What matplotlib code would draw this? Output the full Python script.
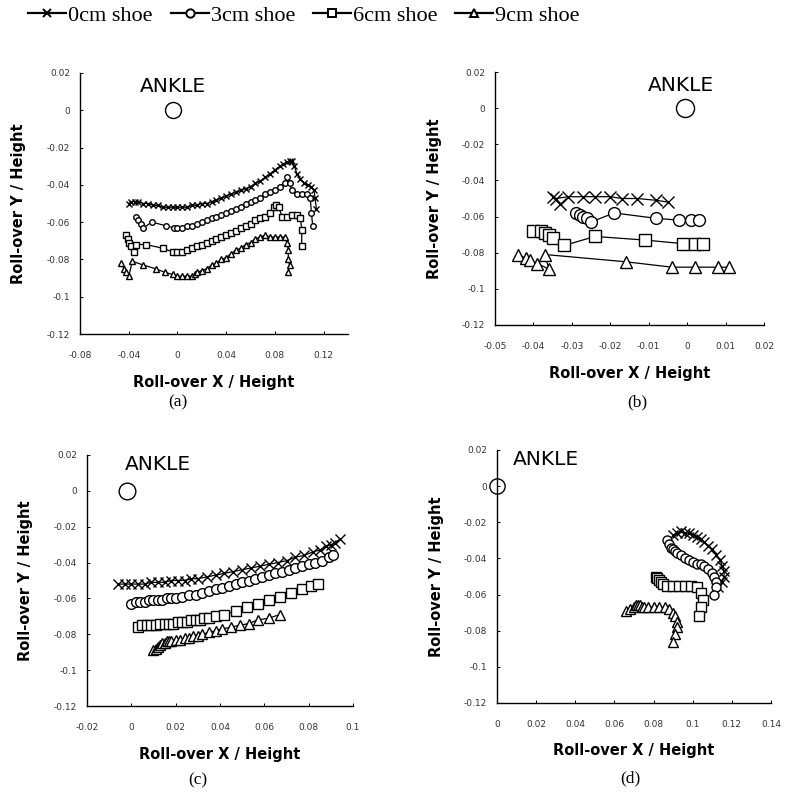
import matplotlib
matplotlib.use("Agg")
import matplotlib.pyplot as plt
from matplotlib.lines import Line2D

# ---- data (roll-over shape, normalised by height) ----
shoes = ["0cm shoe", "3cm shoe", "6cm shoe", "9cm shoe"]
markers = ["x", "o", "s", "^"]

y_ticks = [0.02, 0, -0.02, -0.04, -0.06, -0.08, -0.1, -0.12]
y_ticklabels = ["0.02", "0", "-0.02", "-0.04", "-0.06", "-0.08", "-0.1", "-0.12"]

# (a)
a_xticks = [-0.08, -0.04, 0, 0.04, 0.08, 0.12]
a_xticklabels = ["-0.08", "-0.04", "0", "0.04", "0.08", "0.12"]
a_0cm_x = [-0.040, -0.038, -0.035, -0.032, -0.028, -0.024, -0.020, -0.016, -0.012, -0.008, -0.004,
           0.000, 0.004, 0.008, 0.012, 0.016, 0.020, 0.024, 0.028, 0.032, 0.036, 0.040, 0.044,
           0.048, 0.052, 0.056, 0.060, 0.064, 0.068, 0.072, 0.076, 0.080, 0.084, 0.087, 0.090,
           0.092, 0.094, 0.096, 0.098, 0.101, 0.104, 0.107, 0.110, 0.112, 0.113, 0.114]
a_0cm_y = [-0.050, -0.049, -0.049, -0.049, -0.050, -0.050, -0.051, -0.051, -0.052, -0.052, -0.052,
           -0.052, -0.052, -0.052, -0.051, -0.051, -0.050, -0.050, -0.049, -0.048, -0.047, -0.046,
           -0.045, -0.044, -0.043, -0.042, -0.041, -0.039, -0.038, -0.036, -0.034, -0.032, -0.030,
           -0.029, -0.028, -0.027, -0.027, -0.030, -0.034, -0.037, -0.039, -0.040, -0.041, -0.043,
           -0.047, -0.053]
a_3cm_x = [-0.034, -0.032, -0.030, -0.028, -0.021, -0.009, -0.003, 0.000, 0.004, 0.008, 0.012,
           0.016, 0.020, 0.024, 0.028, 0.032, 0.036, 0.040, 0.044, 0.048, 0.052, 0.056, 0.060,
           0.064, 0.068, 0.072, 0.076, 0.080, 0.084, 0.088, 0.090, 0.092, 0.094, 0.098, 0.102,
           0.106, 0.109, 0.110, 0.111]
a_3cm_y = [-0.057, -0.059, -0.061, -0.063, -0.060, -0.062, -0.063, -0.063, -0.063, -0.062, -0.062,
           -0.061, -0.060, -0.059, -0.058, -0.057, -0.056, -0.055, -0.054, -0.053, -0.052, -0.050,
           -0.049, -0.048, -0.047, -0.045, -0.044, -0.043, -0.041, -0.039, -0.036, -0.039, -0.043,
           -0.045, -0.045, -0.045, -0.047, -0.055, -0.062]
a_6cm_x = [-0.042, -0.041, -0.040, -0.038, -0.036, -0.034, -0.026, -0.012, -0.004, 0.000, 0.004,
           0.008, 0.012, 0.016, 0.020, 0.024, 0.028, 0.032, 0.036, 0.040, 0.044, 0.048, 0.052,
           0.056, 0.060, 0.064, 0.068, 0.072, 0.076, 0.079, 0.081, 0.083, 0.086, 0.090, 0.094,
           0.098, 0.101, 0.102, 0.102]
a_6cm_y = [-0.067, -0.069, -0.071, -0.073, -0.076, -0.072, -0.072, -0.074, -0.076, -0.076, -0.076,
           -0.075, -0.074, -0.073, -0.072, -0.071, -0.070, -0.069, -0.068, -0.067, -0.066, -0.065,
           -0.063, -0.062, -0.061, -0.059, -0.058, -0.057, -0.055, -0.052, -0.051, -0.052, -0.057,
           -0.057, -0.056, -0.056, -0.058, -0.064, -0.073]
a_9cm_x = [-0.046, -0.044, -0.042, -0.040, -0.037, -0.028, -0.018, -0.010, -0.004, 0.000, 0.004,
           0.008, 0.012, 0.014, 0.016, 0.020, 0.024, 0.028, 0.032, 0.036, 0.040, 0.044, 0.048,
           0.052, 0.056, 0.060, 0.064, 0.068, 0.072, 0.076, 0.080, 0.084, 0.088, 0.090, 0.091,
           0.091, 0.092, 0.091]
a_9cm_y = [-0.082, -0.085, -0.087, -0.089, -0.081, -0.083, -0.085, -0.087, -0.088, -0.089, -0.089,
           -0.089, -0.089, -0.088, -0.087, -0.086, -0.085, -0.083, -0.082, -0.080, -0.079, -0.077,
           -0.075, -0.074, -0.072, -0.071, -0.069, -0.068, -0.067, -0.068, -0.068, -0.068, -0.068,
           -0.071, -0.075, -0.080, -0.083, -0.087]

# (b)
b_xticks = [-0.05, -0.04, -0.03, -0.02, -0.01, 0, 0.01, 0.02]
b_xticklabels = ["-0.05", "-0.04", "-0.03", "-0.02", "-0.01", "0", "0.01", "0.02"]
b_0cm_x = [-0.033, -0.035, -0.034, -0.031, -0.027, -0.024, -0.020, -0.017, -0.013, -0.008, -0.005]
b_0cm_y = [-0.053, -0.049, -0.050, -0.049, -0.049, -0.049, -0.049, -0.050, -0.050, -0.051, -0.052]
b_3cm_x = [-0.029, -0.028, -0.027, -0.026, -0.025, -0.019, -0.008, -0.002, 0.001, 0.003]
b_3cm_y = [-0.058, -0.059, -0.060, -0.061, -0.063, -0.058, -0.061, -0.062, -0.062, -0.062]
b_6cm_x = [-0.040, -0.038, -0.037, -0.036, -0.035, -0.032, -0.024, -0.011, -0.001, 0.002, 0.004]
b_6cm_y = [-0.068, -0.068, -0.069, -0.070, -0.072, -0.076, -0.071, -0.073, -0.075, -0.075, -0.075]
b_9cm_x = [-0.044, -0.042, -0.041, -0.039, -0.036, -0.037, -0.016, -0.004, 0.002, 0.008, 0.011]
b_9cm_y = [-0.081, -0.083, -0.084, -0.086, -0.089, -0.081, -0.085, -0.088, -0.088, -0.088, -0.088]

# (c)
c_xticks = [-0.02, 0, 0.02, 0.04, 0.06, 0.08, 0.1]
c_xticklabels = ["-0.02", "0", "0.02", "0.04", "0.06", "0.08", "0.1"]
c_0cm_x = [-0.006, -0.003, 0.000, 0.003, 0.006, 0.009, 0.012, 0.015, 0.018, 0.021, 0.024, 0.027,
           0.030, 0.034, 0.038, 0.042, 0.046, 0.050, 0.054, 0.058, 0.062, 0.066, 0.070, 0.074,
           0.078, 0.082, 0.085, 0.088, 0.090, 0.092, 0.094]
c_0cm_y = [-0.052, -0.052, -0.052, -0.052, -0.052, -0.051, -0.051, -0.051, -0.050, -0.050, -0.050,
           -0.049, -0.049, -0.048, -0.047, -0.046, -0.045, -0.044, -0.043, -0.042, -0.041, -0.040,
           -0.039, -0.037, -0.036, -0.034, -0.033, -0.031, -0.030, -0.029, -0.027]
c_3cm_x = [0.000, 0.002, 0.004, 0.006, 0.008, 0.010, 0.012, 0.014, 0.016, 0.018, 0.020, 0.023,
           0.026, 0.029, 0.032, 0.035, 0.038, 0.041, 0.044, 0.047, 0.050, 0.053, 0.056, 0.059,
           0.062, 0.065, 0.068, 0.071, 0.074, 0.077, 0.080, 0.083, 0.086, 0.089, 0.091]
c_3cm_y = [-0.063, -0.062, -0.062, -0.062, -0.061, -0.061, -0.061, -0.061, -0.060, -0.060, -0.060,
           -0.059, -0.058, -0.058, -0.057, -0.056, -0.055, -0.054, -0.053, -0.052, -0.051, -0.050,
           -0.049, -0.048, -0.047, -0.046, -0.045, -0.044, -0.043, -0.042, -0.041, -0.040, -0.039,
           -0.037, -0.036]
c_6cm_x = [0.003, 0.005, 0.007, 0.009, 0.011, 0.013, 0.015, 0.017, 0.019, 0.021, 0.023, 0.025,
           0.027, 0.029, 0.031, 0.033, 0.035, 0.038, 0.042, 0.047, 0.052, 0.057, 0.062, 0.067,
           0.072, 0.077, 0.081, 0.084]
c_6cm_y = [-0.076, -0.075, -0.075, -0.075, -0.075, -0.074, -0.074, -0.074, -0.074, -0.073, -0.073,
           -0.073, -0.072, -0.072, -0.072, -0.071, -0.071, -0.070, -0.069, -0.067, -0.065, -0.063,
           -0.061, -0.059, -0.057, -0.055, -0.053, -0.052]
c_9cm_x = [0.010, 0.011, 0.012, 0.013, 0.014, 0.015, 0.016, 0.017, 0.018, 0.020, 0.022, 0.024,
           0.026, 0.028, 0.030, 0.032, 0.035, 0.038, 0.041, 0.045, 0.049, 0.053, 0.057, 0.062, 0.067]
c_9cm_y = [-0.089, -0.088, -0.087, -0.086, -0.085, -0.085, -0.084, -0.084, -0.084, -0.083, -0.083,
           -0.082, -0.082, -0.081, -0.081, -0.080, -0.079, -0.078, -0.077, -0.076, -0.075, -0.074,
           -0.072, -0.071, -0.069]

# (d)
d_xticks = [0, 0.02, 0.04, 0.06, 0.08, 0.1, 0.12, 0.14]
d_xticklabels = ["0", "0.02", "0.04", "0.06", "0.08", "0.1", "0.12", "0.14"]
d_0cm_x = [0.090, 0.092, 0.094, 0.096, 0.098, 0.100, 0.102, 0.104, 0.106, 0.108, 0.110, 0.112,
           0.114, 0.115, 0.116, 0.116, 0.115, 0.113]
d_0cm_y = [-0.027, -0.026, -0.025, -0.026, -0.026, -0.027, -0.028, -0.029, -0.031, -0.033, -0.035,
           -0.038, -0.041, -0.044, -0.047, -0.050, -0.053, -0.056]
d_3cm_x = [0.087, 0.088, 0.089, 0.090, 0.091, 0.092, 0.094, 0.096, 0.098, 0.100, 0.102, 0.104,
           0.106, 0.108, 0.110, 0.111, 0.112, 0.112, 0.111]
d_3cm_y = [-0.030, -0.032, -0.034, -0.035, -0.036, -0.037, -0.038, -0.040, -0.041, -0.042, -0.043,
           -0.043, -0.044, -0.046, -0.048, -0.050, -0.053, -0.056, -0.060]
d_6cm_x = [0.081, 0.082, 0.083, 0.084, 0.085, 0.087, 0.090, 0.093, 0.096, 0.099, 0.102, 0.104,
           0.105, 0.104, 0.103]
d_6cm_y = [-0.050, -0.051, -0.052, -0.053, -0.054, -0.055, -0.055, -0.055, -0.055, -0.055, -0.056,
           -0.059, -0.063, -0.067, -0.072]
d_9cm_x = [0.066, 0.068, 0.070, 0.071, 0.072, 0.073, 0.074, 0.075, 0.077, 0.080, 0.083, 0.086,
           0.088, 0.090, 0.091, 0.092, 0.092, 0.091, 0.090]
d_9cm_y = [-0.069, -0.068, -0.067, -0.066, -0.066, -0.066, -0.067, -0.067, -0.067, -0.067, -0.067,
           -0.067, -0.068, -0.070, -0.072, -0.075, -0.078, -0.082, -0.086]

# ankle position and label position per panel
ankle_xy = {"a": (-0.004, 0.0), "b": (-0.0005, 0.0), "c": (-0.002, 0.0), "d": (0.0, 0.0)}
ankle_text_xy = {"a": (-0.004, 0.013), "b": (-0.0015, 0.0128), "c": (0.012, 0.0145), "d": (0.025, 0.015)}

W, H = 785, 796
SANS = "DejaVu Sans"
SERIF = "Liberation Serif"


def px_axes(l, t, r, b):
    return [l / W, 1 - b / H, (r - l) / W, (b - t) / H]


def panel(fig, rect, xlim, xticks, xticklabels, series, ms, ankle_ms, key, caption_xy):
    ax = fig.add_axes(rect)
    for (xs, ys), mk in zip(series, markers):
        ax.plot(xs, ys, color="black", lw=0.9, marker=mk, ms=ms,
                mfc="white" if mk != "x" else "black", mec="black", mew=1.0)
    ax.plot(*ankle_xy[key], marker="o", ms=ankle_ms, mfc="none", mec="black", mew=1.0,
            clip_on=False)
    ax.text(*ankle_text_xy[key], "ANKLE", fontsize=14.5, family=SANS, ha="center", va="center")
    ax.set_xlim(*xlim)
    ax.set_ylim(-0.12, 0.02)
    ax.set_xticks(xticks)
    ax.set_xticklabels(xticklabels)
    ax.set_yticks(y_ticks)
    ax.set_yticklabels(y_ticklabels)
    for s in ("top", "right"):
        ax.spines[s].set_visible(False)
    for s in ("left", "bottom"):
        ax.spines[s].set_linewidth(1.0)
    ax.tick_params(axis="both", direction="in", length=2.5, width=0.7,
                   labelsize=6.5, labelcolor="#333333")
    ax.tick_params(axis="x", pad=12)
    ax.tick_params(axis="y", pad=7)
    hpx = rect[3] * H
    wpx = rect[2] * W
    ax.set_xlabel("Roll-over X / Height", fontsize=10.5, fontweight="bold", family=SANS, va="center")
    ax.xaxis.set_label_coords(0.5, -48 / hpx)
    ax.set_ylabel("Roll-over Y / Height", fontsize=10.5, fontweight="bold", family=SANS, va="center")
    ax.yaxis.set_label_coords(-61 / wpx, 0.5)
    fig.text(caption_xy[0] / W, 1 - caption_xy[1] / H, "(%s)" % key, fontsize=12.5,
             family=SERIF, ha="center", va="center")
    return ax


fig = plt.figure(figsize=(W / 100, H / 100), dpi=100)

ax_a = panel(fig, px_axes(80, 73, 348, 334), (-0.08, 0.14), a_xticks, a_xticklabels,
             [(a_0cm_x, a_0cm_y), (a_3cm_x, a_3cm_y), (a_6cm_x, a_6cm_y), (a_9cm_x, a_9cm_y)],
             4, 11.5, "a", (178, 402))
ax_b = panel(fig, px_axes(495, 72, 764, 325), (-0.05, 0.02), b_xticks, b_xticklabels,
             [(b_0cm_x, b_0cm_y), (b_3cm_x, b_3cm_y), (b_6cm_x, b_6cm_y), (b_9cm_x, b_9cm_y)],
             8.5, 13, "b", (637, 402))
ax_c = panel(fig, px_axes(87, 455, 353, 706), (-0.02, 0.1), c_xticks, c_xticklabels,
             [(c_0cm_x, c_0cm_y), (c_3cm_x, c_3cm_y), (c_6cm_x, c_6cm_y), (c_9cm_x, c_9cm_y)],
             7, 12, "c", (198, 780))
ax_d = panel(fig, px_axes(497, 450, 771, 703), (0, 0.14), d_xticks, d_xticklabels,
             [(d_0cm_x, d_0cm_y), (d_3cm_x, d_3cm_y), (d_6cm_x, d_6cm_y), (d_9cm_x, d_9cm_y)],
             6.5, 11, "d", (630, 778))

handles = [Line2D([], [], color="black", lw=1.6, marker=mk, ms=6, mfc="white" if mk != "x" else "black",
                  mec="black", mew=1.4) for mk in markers]
fig.legend(handles, shoes, loc="upper left", bbox_to_anchor=(24 / W, 1 - 1 / H), ncol=4,
           frameon=False, prop={"family": SERIF, "size": 16}, handlelength=1.7,
           handletextpad=0.1, columnspacing=0.8, borderaxespad=0, borderpad=0.2)

fig.savefig("out.png", dpi=100)
